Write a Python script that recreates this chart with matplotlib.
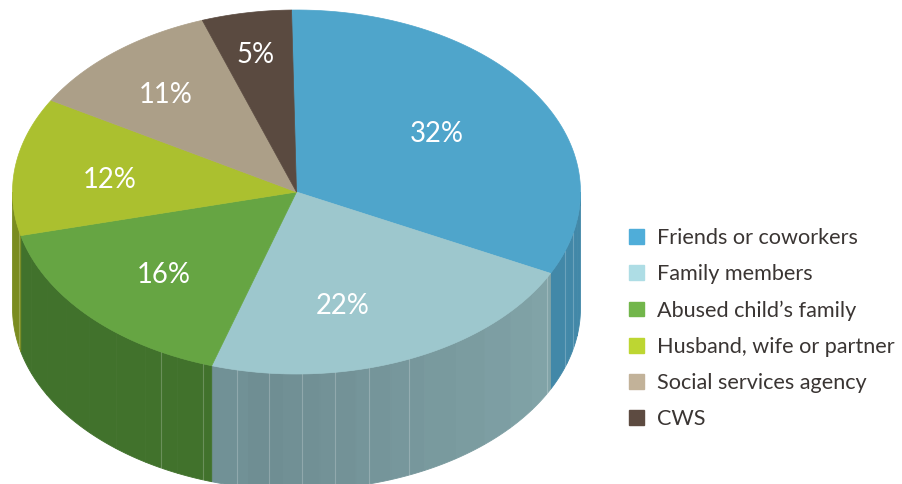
import numpy as np
import matplotlib
matplotlib.use('Agg')
import matplotlib.pyplot as plt
from matplotlib.colors import to_rgb
from matplotlib.patches import Patch, Polygon

categories = ['Friends or coworkers', 'Family members', "Abused child\u2019s family",
              'Husband, wife or partner', 'Social services agency', 'CWS']
values = [32, 22, 16, 12, 11, 5]
top_colors = ['#4fa5cb', '#9dc7cd', '#66a543', '#abc02f', '#ac9f88', '#5a4a40']
side_dark = ['#3f85a6', '#6f8e93', '#41722c', '#72851e', '#7f7564', '#43372f']
side_light = ['#4288a8', '#82a5a9', '#41722c', '#7a8c20', '#7f7564', '#43372f']
legend_colors = ['#4fadd9', '#aedde5', '#72b64b', '#bdd632', '#c2b299', '#5d4b41']

# pie geometry, in pixels
cx, cy = 296.5, 192
rx, ry = 284, 182
depth = 116
start = -1

# light seams on the rim, degrees clockwise from the top
seams = [103, 109, 118, 156.6, 165.3, 172.3, 178.8, 185.5, 192, 199.3, 208.4, 257.5]
label_xy = [(437, 134), (343, 306), (164, 275), (110, 180), (166, 95), (256, 55)]

plt.rcParams['font.family'] = ['Lato', 'DejaVu Sans']

fig = plt.figure(figsize=(9.03, 4.84), dpi=100)
ax = fig.add_axes([0, 0, 1, 1])
ax.set_xlim(0, 903)
ax.set_ylim(484, 0)
ax.axis('off')


def rim(t, dy=0):
    t = np.radians(t)
    return np.column_stack([cx + rx * np.sin(t), cy - ry * np.cos(t) + dy])


edges = start + np.cumsum([0] + values) / sum(values) * 360

# side wall, only the front half shows
for i in range(len(values)):
    a, b = max(edges[i], 90), min(edges[i + 1], 270)
    if a >= b:
        continue
    n = max(int((b - a) / 7), 1)
    cuts = np.linspace(a, b, n + 1)
    for j in range(n):
        # darkest towards the front of the pie
        k = min(abs((cuts[j] + cuts[j + 1]) / 2 - 185) / 70, 1)
        col = np.array(to_rgb(side_dark[i])) * (1 - k) + np.array(to_rgb(side_light[i])) * k
        t = np.linspace(cuts[j], cuts[j + 1], 12)
        pts = np.vstack([rim(t), rim(t[::-1], depth)])
        ax.add_patch(Polygon(pts, closed=True, fc=col, ec=col, lw=0.6, zorder=2))

for s in seams:
    p = np.vstack([rim([s]), rim([s], depth)])
    ax.plot(p[:, 0], p[:, 1], color='white', alpha=0.22, lw=0.8, zorder=3)

# top face
for i in range(len(values)):
    t = np.linspace(edges[i], edges[i + 1], 80)
    pts = np.vstack([[cx, cy], rim(t)])
    ax.add_patch(Polygon(pts, closed=True, fc=top_colors[i], ec=top_colors[i], lw=0.5, zorder=4))

for i, v in enumerate(values):
    ax.text(label_xy[i][0], label_xy[i][1], '%d%%' % v, color='white', fontsize=19.8,
            ha='center', va='center', zorder=5)

handles = [Patch(fc=c, ec=c) for c in legend_colors]
ax.legend(handles, categories, loc='upper left', bbox_to_anchor=(629 / 903, 1 - 228 / 484),
          frameon=False, prop={'family': 'Lato', 'size': 15.6},
          labelcolor='#3a3533', handlelength=0.68, handleheight=0.68, handletextpad=0.62,
          labelspacing=0.745, borderpad=0, borderaxespad=0)

plt.savefig('out.png', dpi=100)
